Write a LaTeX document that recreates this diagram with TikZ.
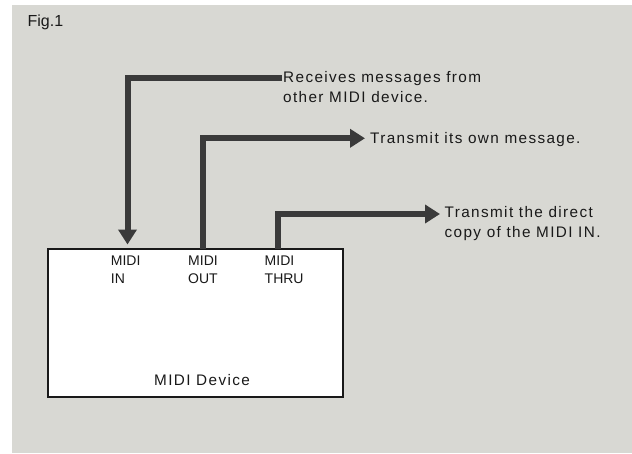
\documentclass[tikz,border=0pt]{standalone}
\usepackage{fontspec}
\setmainfont{Liberation Sans}
\newfontfamily\notefont[LetterSpace=9]{Liberation Sans}
\usepackage{xcolor}
\usetikzlibrary{arrows.meta, positioning}
\definecolor{paper}{RGB}{216,216,211}
\definecolor{ink}{RGB}{58,58,58}

\begin{document}
\begin{tikzpicture}[x=1pt, y=-1pt,
      device/.style={draw=black!90, line width=2pt, fill=white, minimum width=294.7pt, minimum height=147.4pt, inner sep=0pt},
      port/.style={anchor=north west, inner sep=0pt, align=left, text=black!90, font=\fontsize{14}{18}\selectfont},
      note/.style={inner sep=0pt, align=left, text=black!90, font=\notefont\fontsize{15.3}{20}\selectfont},
      arr/.style={draw=ink, line width=6pt, -{Triangle[length=15pt, width=18pt]}}
    ]
    \useasboundingbox (0,0) rectangle (632,453);
    \fill[paper] (12,5) rectangle (632,453);

    \node[note, anchor=base west, font=\fontsize{16}{18}\selectfont] (fig) at (27.4,26) {Fig.1};

    \node[device] (dev) at (195.6,323) {};
    \node[port] (inlbl) at (110.7,256) {MIDI\\IN};
    \node[port] (outlbl) at (188,255.5) {MIDI\\OUT};
    \node[port] (thrulbl) at (264.5,256) {MIDI\\THRU};
    \node[note, anchor=base] (devname) at (202,385.7) {MIDI Device};

    \node[note, anchor=north west] (recv) at (283,71) {Receives messages from\\other MIDI device.};
    \node[note, anchor=base west] (send) at (370,143.3) {Transmit its own message.};
    \node[note, anchor=north west] (copy) at (444.5,206.7) {Transmit the direct\\copy of the MIDI IN.};

    \coordinate (inport) at (127.5,244.5);
    \coordinate (outport) at (202.7,249);
    \coordinate (thruport) at (278.3,249);
    \coordinate (recvend) at (282,78);
    \coordinate (sendend) at (365,138.3);
    \coordinate (copyend) at (440,214);

    \draw[arr] (recvend) -| (inport);
    \draw[arr] (outport) |- (sendend);
    \draw[arr] (thruport) |- (copyend);
  \end{tikzpicture}
\end{document}
